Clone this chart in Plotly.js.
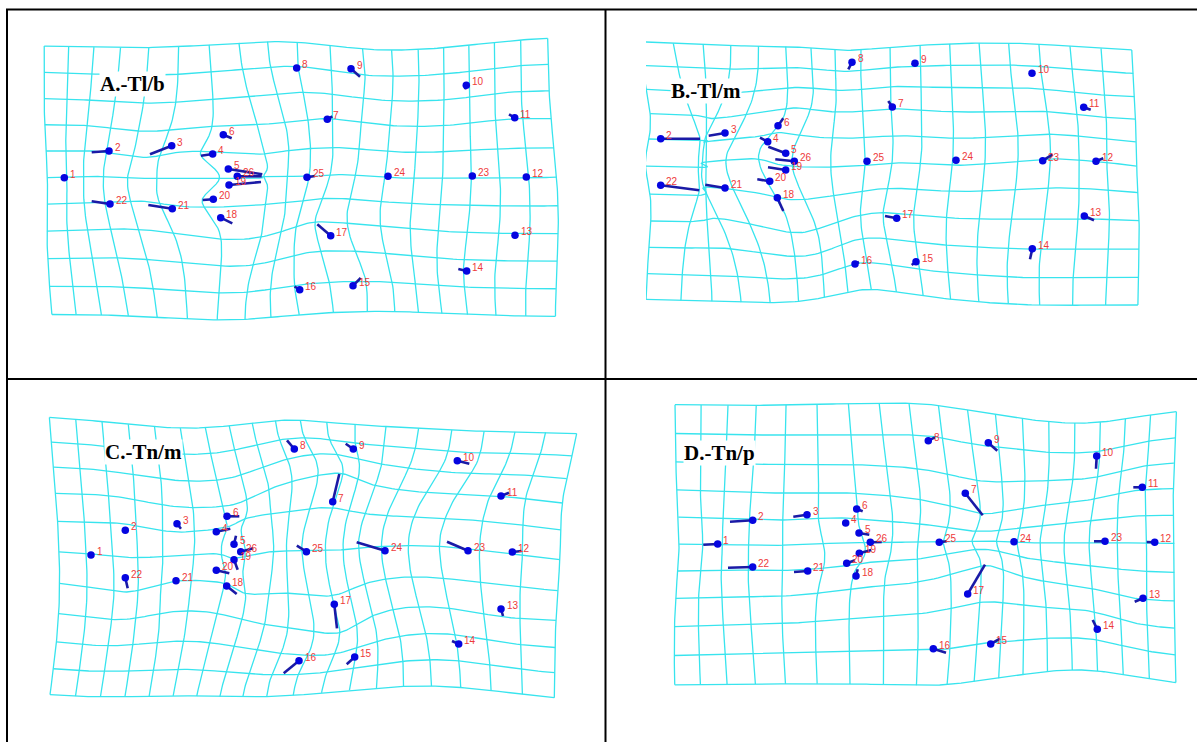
<!DOCTYPE html>
<html>
<head>
<meta charset="utf-8">
<script src="https://cdn.plot.ly/plotly-3.0.1.min.js"></script>
<style>
  html, body { margin: 0; padding: 0; background: #ffffff; }
  #chart { width: 1197px; height: 742px; }
</style>
</head>
<body>
<div id="chart"></div>
<script>
// ---------------- DATA (landmark coordinates, panel-local units) ----------------
const landmarkIds = [1,2,3,4,5,6,7,8,9,10,11,12,13,14,15,16,17,18,19,20,21,22,23,24,25,26];
const panelTitles = ['A.-Tl/b', 'B.-Tl/m', 'C.-Tn/m', 'D.-Tn/p'];

// Panel A: landmark (dot) positions and vector (stick) end positions
const A_x  = [64.3,109,171.7,212.7,228.3,223.3,327.3,296.7,351,466.3,514.7,526.3,515,466.7,353,299.7,330.7,220.7,229,213.3,172.3,110,472.3,388,307,237.3];
const A_y  = [177.7,151,145.7,154,169,134.7,119.3,68,68.7,85.3,117.7,177,235.3,271,285.7,289.7,235.7,217.7,185,199.3,208.7,204,176,176.3,177.3,176.3];
const A_ex = [64.3,91.7,150,201,262.3,231.7,332.3,296.7,360,465,509,526.3,515,458.3,360.7,294.5,317.3,232.3,261,202.7,148.3,91.7,472.3,388,315,261.7];
const A_ey = [177.7,152.3,154.3,155.7,174.3,138.3,116.3,68,76.7,89.3,114.3,177,235.3,269,278,286.5,224.3,223.3,182,200,205,201.3,176,176.3,176,176.3];

// Panel B (landmark 1 is cut off by the panel's left edge; its position is an estimate)
const B_x  = [20,60.7,125,167.7,185.7,178,292.3,252,315,432,483.7,496,484.3,432.3,316,255,296.7,177.3,185.7,169.7,125,60.7,442.7,356,267,194.3];
const B_y  = [162,138.7,133,141.7,153.3,125.7,107,62.3,63.3,73.3,107.3,161.3,216,248.7,261.7,264,218.3,197.7,170,181.3,188,185.3,160.7,160.3,161.3,161.3];
const B_ex = [20,100,108.7,160,168.3,183.3,288.3,248.3,311.7,432,490.7,503.3,494,430,311.7,259,285,183.3,168,157.3,105.3,99.3,452.7,356,267,175.3];
const B_ey = [162,138.7,135.7,137.7,146.7,118.3,101,69.3,65,73.3,109.7,158.3,220.3,259.3,265,262,216,211,167.3,179.3,184.7,190.3,154.3,160.3,161.3,159.3];

// Panel C
const C_x  = [91,125.3,177,216.3,234,227,332.7,294.3,353.3,457.3,501,512.3,501,458.7,354.7,299,334.3,226.7,234,216.3,176,125.3,468,385,306.4,240.7];
const C_y  = [185,160.3,153.7,161.7,174.3,146.3,131.7,79,79,90.7,126,182,239,274,287,290.7,234.3,216,189.7,200.3,210.7,207.7,180.7,180.7,181.7,181.7];
const C_ex = [91,125,181,230.3,236,239.3,339.3,287,345.7,469.3,509,521.7,503,452,346.7,283.7,337,236.7,237.7,229.3,176,127.7,447,356.7,296.8,253.3];
const C_ey = [185,157,158.7,158.7,165.7,146.3,104,70.3,73.7,93.7,122.7,181,246,271,294.3,303.3,258.3,224,199.7,203.3,210.7,218.3,171.7,172.3,175.7,178.3];

// Panel D
const D_x  = [117.7,152.7,207,245.7,259,256.7,365.3,328.3,388.3,496.7,542.3,554.7,543,497.3,390.7,333.3,367.7,256,259.3,246.7,207.7,152.7,505,414,339.3,270.3];
const D_y  = [174,150.3,144.7,153,163,139,123.3,70.7,72.7,86,117.3,172.3,228.3,259.3,274,278.7,224,206,183.3,193.3,201,197,171.3,171.7,172.3,172.3];
const D_ex = [103.3,130,193.3,245.7,269.3,262.7,382.7,335,397.3,496,533.3,546.7,534.7,492.7,400,346,385,257.7,271.3,255,194,128,494,414,346.7,281.7];
const D_ey = [174.7,151.7,146.7,153,164.7,141.3,145.3,67.3,80.7,98.7,117.3,172,231.7,250,268.7,282.7,194.7,199.3,180,190.3,202,197.7,171.3,171.7,171.3,172];

// ---------------- LAYOUT / STYLE ----------------
const W = 1197, H = 742;
const GRID_COLOR = '#38e4ee';
const STICK_COLOR = '#1a1aa6';
const DOT_COLOR = '#0505e0';
const LABEL_COLOR = '#ee3a3a';

const panels = [
  { xs: A_x, ys: A_y, xe: A_ex, ye: A_ey, title: panelTitles[0], tpos: [98.5, 84],
    off: [0, 0], clip: [8, 11, 604, 377],
    grid: { nx: 18, ny: 10, tl: [39, 38], tr: [557, 39], bl: [42, 316], br: [558, 317] } },
  { xs: B_x, ys: B_y, xe: B_ex, ye: B_ey, title: panelTitles[1], tpos: [70, 91],
    off: [600, 0], clip: [646, 11, 1195, 377],
    grid: { nx: 17, ny: 10, tl: [31.5, 40], tr: [528.4, 40], bl: [31.5, 290], br: [528.4, 290] } },
  { xs: C_x, ys: C_y, xe: C_ex, ye: C_ey, title: panelTitles[2], tpos: [104.3, 81.5],
    off: [0, 370], clip: [8, 381, 604, 740],
    grid: { nx: 19, ny: 10, tl: [60, 51], tr: [539, 49], bl: [63, 317], br: [537, 322] } },
  { xs: D_x, ys: D_y, xe: D_ex, ye: D_ey, title: panelTitles[3], tpos: [83.3, 82.5],
    off: [600, 370], clip: [607, 381, 1195, 740],
    grid: { nx: 18, ny: 10, tl: [87.7, 46], tr: [582, 43], bl: [91.7, 301], br: [582, 303] } }
];

// ---------------- Thin-plate spline (landmarks -> vector ends) ----------------
function makeTps(sx, sy, tx, ty) {
  const s = 0.01;
  const pts = [];
  for (let i = 0; i < sx.length; i++) {
    if (sx[i] == null) continue;
    pts.push([sx[i] * s, sy[i] * s, tx[i] * s, ty[i] * s]);
  }
  const n = pts.length, m = n + 3;
  const M = [];
  for (let i = 0; i < m; i++) M.push(new Array(m + 2).fill(0));
  const U = r2 => (r2 > 1e-12 ? r2 * Math.log(r2) : 0);
  for (let i = 0; i < n; i++) {
    for (let j = 0; j < n; j++) {
      const dx = pts[i][0] - pts[j][0], dy = pts[i][1] - pts[j][1];
      M[i][j] = U(dx * dx + dy * dy);
    }
    M[i][n] = 1; M[i][n + 1] = pts[i][0]; M[i][n + 2] = pts[i][1];
    M[n][i] = 1; M[n + 1][i] = pts[i][0]; M[n + 2][i] = pts[i][1];
    M[i][m] = pts[i][2]; M[i][m + 1] = pts[i][3];
  }
  for (let c = 0; c < m; c++) {
    let p = c, best = Math.abs(M[c][c]);
    for (let r = c + 1; r < m; r++) if (Math.abs(M[r][c]) > best) { best = Math.abs(M[r][c]); p = r; }
    if (p !== c) { const t = M[p]; M[p] = M[c]; M[c] = t; }
    const piv = M[c][c];
    if (Math.abs(piv) < 1e-14) continue;
    for (let r = c + 1; r < m; r++) {
      const f = M[r][c] / piv;
      if (f === 0) continue;
      for (let k = c; k < m + 2; k++) M[r][k] -= f * M[c][k];
    }
  }
  const solX = new Array(m).fill(0), solY = new Array(m).fill(0);
  for (let r = m - 1; r >= 0; r--) {
    let ax = M[r][m], ay = M[r][m + 1];
    for (let k = r + 1; k < m; k++) { ax -= M[r][k] * solX[k]; ay -= M[r][k] * solY[k]; }
    solX[r] = ax / M[r][r]; solY[r] = ay / M[r][r];
  }
  return function (x, y) {
    x *= s; y *= s;
    let fx = solX[n] + solX[n + 1] * x + solX[n + 2] * y;
    let fy = solY[n] + solY[n + 1] * x + solY[n + 2] * y;
    for (let i = 0; i < n; i++) {
      const dx = x - pts[i][0], dy = y - pts[i][1];
      const u = U(dx * dx + dy * dy);
      fx += solX[i] * u; fy += solY[i] * u;
    }
    return [fx / s, fy / s];
  };
}

function bilinear(g, u, v) {
  return [
    (1 - u) * (1 - v) * g.tl[0] + u * (1 - v) * g.tr[0] + (1 - u) * v * g.bl[0] + u * v * g.br[0],
    (1 - u) * (1 - v) * g.tl[1] + u * (1 - v) * g.tr[1] + (1 - u) * v * g.bl[1] + u * v * g.br[1]
  ];
}

const traces = [];
const annotations = [];
const layout = {
  width: W, height: H,
  margin: { l: 0, r: 0, t: 0, b: 0 },
  paper_bgcolor: '#ffffff', plot_bgcolor: 'rgba(0,0,0,0)',
  showlegend: false,
  shapes: [],
  annotations: annotations
};

panels.forEach((p, k) => {
  const sfx = k === 0 ? '' : String(k + 1);
  const xa = 'x' + sfx, ya = 'y' + sfx;
  const [L, T, R, B] = p.clip;
  const [ox, oy] = p.off;
  layout['xaxis' + sfx] = {
    domain: [L / W, R / W], range: [L - ox, R - ox], anchor: ya,
    visible: false, showgrid: false, zeroline: false, fixedrange: true
  };
  layout['yaxis' + sfx] = {
    domain: [1 - B / H, 1 - T / H], range: [B - oy, T - oy], anchor: xa,
    visible: false, showgrid: false, zeroline: false, fixedrange: true
  };

  const f = makeTps(p.xs, p.ys, p.xe, p.ye);
  const g = p.grid, sub = 8;
  const gx = [], gy = [];
  for (let i = 0; i <= g.nx; i++) {
    for (let t = 0; t <= g.ny * sub; t++) {
      const q = f(...bilinear(g, i / g.nx, t / (g.ny * sub)));
      gx.push(q[0]); gy.push(q[1]);
    }
    gx.push(null); gy.push(null);
  }
  for (let j = 0; j <= g.ny; j++) {
    for (let t = 0; t <= g.nx * sub; t++) {
      const q = f(...bilinear(g, t / (g.nx * sub), j / g.ny));
      gx.push(q[0]); gy.push(q[1]);
    }
    gx.push(null); gy.push(null);
  }
  traces.push({ type: 'scatter', mode: 'lines', x: gx, y: gy, xaxis: xa, yaxis: ya,
    line: { color: GRID_COLOR, width: 1.3 }, hoverinfo: 'skip' });

  const sxs = [], sys = [];
  p.xs.forEach((x, i) => {
    if (x == null) return;
    sxs.push(x, p.xe[i], null); sys.push(p.ys[i], p.ye[i], null);
  });
  traces.push({ type: 'scatter', mode: 'lines', x: sxs, y: sys, xaxis: xa, yaxis: ya,
    line: { color: STICK_COLOR, width: 2.6 }, hoverinfo: 'skip' });

  traces.push({ type: 'scatter', mode: 'markers', x: p.xs, y: p.ys, xaxis: xa, yaxis: ya,
    marker: { color: DOT_COLOR, size: 7.5, line: { width: 0 } }, text: landmarkIds, hoverinfo: 'text' });

  landmarkIds.forEach((id, i) => {
    if (p.xs[i] == null) return;
    const px = p.xs[i] + ox, py = p.ys[i] + oy;
    if (px < L || px > R || py < T || py > B) return; // landmark outside visible window
    annotations.push({ x: p.xs[i], y: p.ys[i], xref: xa, yref: ya, text: String(id), showarrow: false,
      xanchor: 'left', yanchor: 'middle', xshift: 4.5, yshift: 3.5, borderpad: 0,
      font: { family: 'Liberation Sans, Arial, sans-serif', size: 10, color: LABEL_COLOR } });
  });

  annotations.push({ x: p.tpos[0], y: p.tpos[1], xref: xa, yref: ya, text: '<b>' + p.title + '</b>',
    showarrow: false, xanchor: 'left', yanchor: 'middle', bgcolor: '#ffffff', borderpad: 0,
    font: { family: 'Liberation Serif, Times New Roman, serif', size: 21, color: '#000000' } });
});

// Frame (table borders)
const frameLines = [
  [6, 9.5, W, 9.5], [7, 9, 7, H], [605.5, 9, 605.5, H], [6, 379, W, 379]
];
frameLines.forEach(([x0, y0, x1, y1]) => {
  layout.shapes.push({ type: 'line', xref: 'paper', yref: 'paper',
    x0: x0 / W, x1: x1 / W, y0: 1 - y0 / H, y1: 1 - y1 / H,
    line: { color: '#000000', width: 2 } });
});

Plotly.newPlot('chart', traces, layout, { displayModeBar: false, staticPlot: true });
</script>
</body>
</html>
